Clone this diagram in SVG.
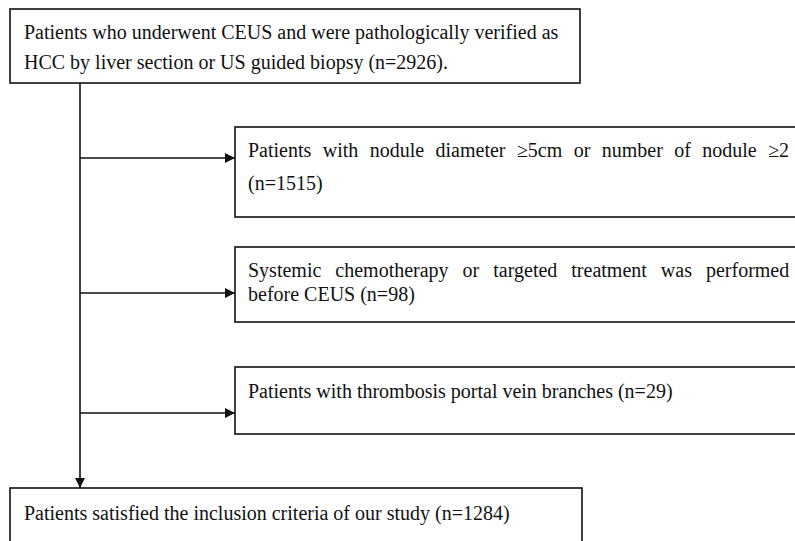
<svg xmlns="http://www.w3.org/2000/svg" width="795" height="541" viewBox="0 0 795 541">
<style>
.box{fill:#fff;stroke:#111;stroke-width:1.6}
.t{font-family:"Liberation Serif","Times New Roman",serif;font-size:20px;fill:#111}
.c{stroke:#111;stroke-width:1.6;fill:none}
</style>
<defs>
<marker id="ah" viewBox="0 0 10 10" refX="10" refY="5" markerWidth="10" markerHeight="10" markerUnits="userSpaceOnUse" orient="auto">
<path d="M0,0 L10,5 L0,10 Z" fill="#111"/>
</marker>
</defs>
<rect width="795" height="541" fill="#fff"/>
<g id="connectors">
<line class="c" x1="80" y1="83" x2="80" y2="488" marker-end="url(#ah)"/>
<line class="c" x1="80" y1="158" x2="235" y2="158" marker-end="url(#ah)"/>
<line class="c" x1="80" y1="293" x2="235" y2="293" marker-end="url(#ah)"/>
<line class="c" x1="80" y1="413" x2="235" y2="413" marker-end="url(#ah)"/>
</g>
<g id="n1">
<rect class="box" x="10" y="9" width="570" height="74"/>
<text class="t" x="24" y="39">Patients who underwent CEUS and were pathologically verified as</text>
<text class="t" x="24" y="69">HCC by liver section or US guided biopsy (n=2926).</text>
</g>
<g id="n2">
<rect class="box" x="235" y="127" width="580" height="90"/>
<text class="t" x="248" y="157" word-spacing="6.4">Patients with nodule diameter ≥5cm or number of nodule ≥2</text>
<text class="t" x="248" y="190">(n=1515)</text>
</g>
<g id="n3">
<rect class="box" x="235" y="247" width="580" height="75"/>
<text class="t" x="248" y="277" word-spacing="9">Systemic chemotherapy or targeted treatment was performed</text>
<text class="t" x="248" y="301">before CEUS (n=98)</text>
</g>
<g id="n4">
<rect class="box" x="235" y="367" width="580" height="67"/>
<text class="t" x="248" y="398">Patients with thrombosis portal vein branches (n=29)</text>
</g>
<g id="n5">
<rect class="box" x="10" y="488" width="572" height="70"/>
<text class="t" x="24" y="520">Patients satisfied the inclusion criteria of our study (n=1284)</text>
</g>
</svg>
